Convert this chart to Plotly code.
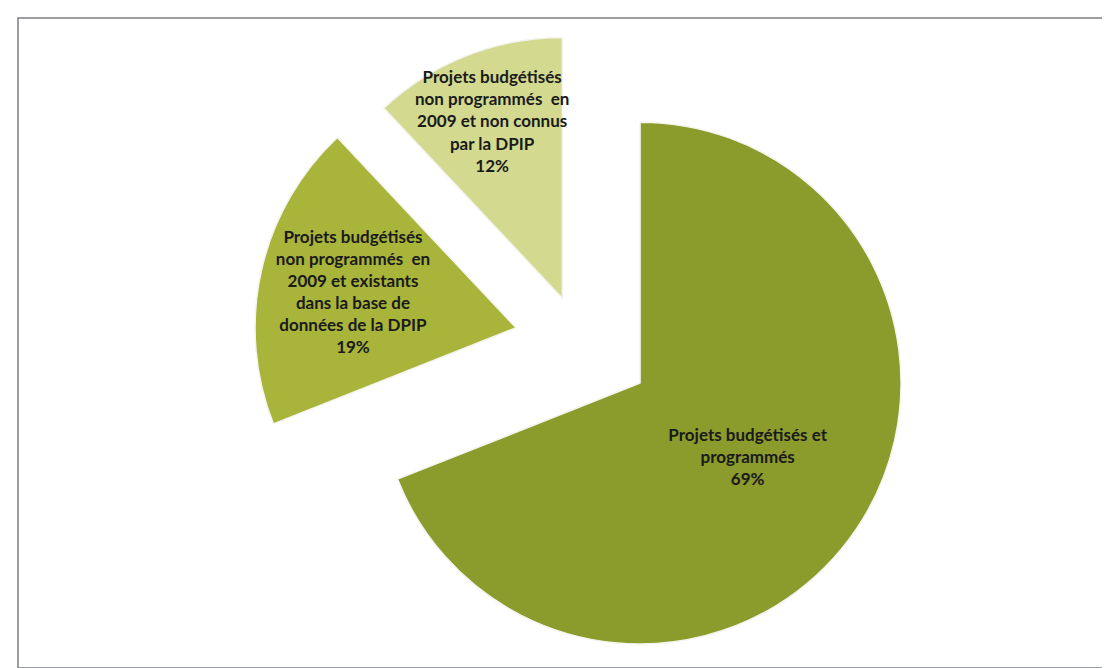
import plotly.graph_objects as go

# Répartition des projets budgétisés
labels = [
    "Projets budgétisés et programmés",
    "Projets budgétisés non programmés en 2009 et existants dans la base de données de la DPIP",
    "Projets budgétisés non programmés en 2009 et non connus par la DPIP",
]
wrapped_labels = [
    "Projets budgétisés et<br>programmés",
    "Projets budgétisés<br>non programmés  en<br>2009 et existants<br>dans la base de<br>données de la DPIP",
    "Projets budgétisés<br>non programmés  en<br>2009 et non connus<br>par la DPIP",
]
values = [69, 19, 12]
colors = ["#8b9b2c", "#a9b43a", "#d3da8f"]
pulls = [0.28, 0.25, 0.18]

fig = go.Figure()
fig.add_trace(go.Pie(
    labels=labels,
    values=values,
    text=wrapped_labels,
    texttemplate="%{text}<br>%{percent:.0%}",
    textposition="inside",
    insidetextorientation="horizontal",
    sort=False,
    direction="clockwise",
    rotation=0,
    pull=pulls,
    marker=dict(colors=colors, line=dict(color="#f4f4ee", width=1.5)),
    textfont=dict(family="Lato, Open Sans, sans-serif", size=17, color="#1a1a1a", weight="bold"),
    showlegend=False,
    hoverinfo="label+percent",
    domain=dict(x=[0.03, 1.0], y=[0.0, 1.0]),
))

# Cadre gris autour du graphique
fig.add_shape(type="rect", xref="paper", yref="paper",
              x0=0.009, x1=0.991, y0=0.012, y1=0.985,
              line=dict(color="#7c7c86", width=1.5))

fig.update_layout(
    width=1110,
    height=668,
    margin=dict(l=0, r=0, t=0, b=0),
    paper_bgcolor="white",
    plot_bgcolor="white",
    uniformtext=dict(minsize=16, mode="show"),
)

fig.write_html("out.html")
